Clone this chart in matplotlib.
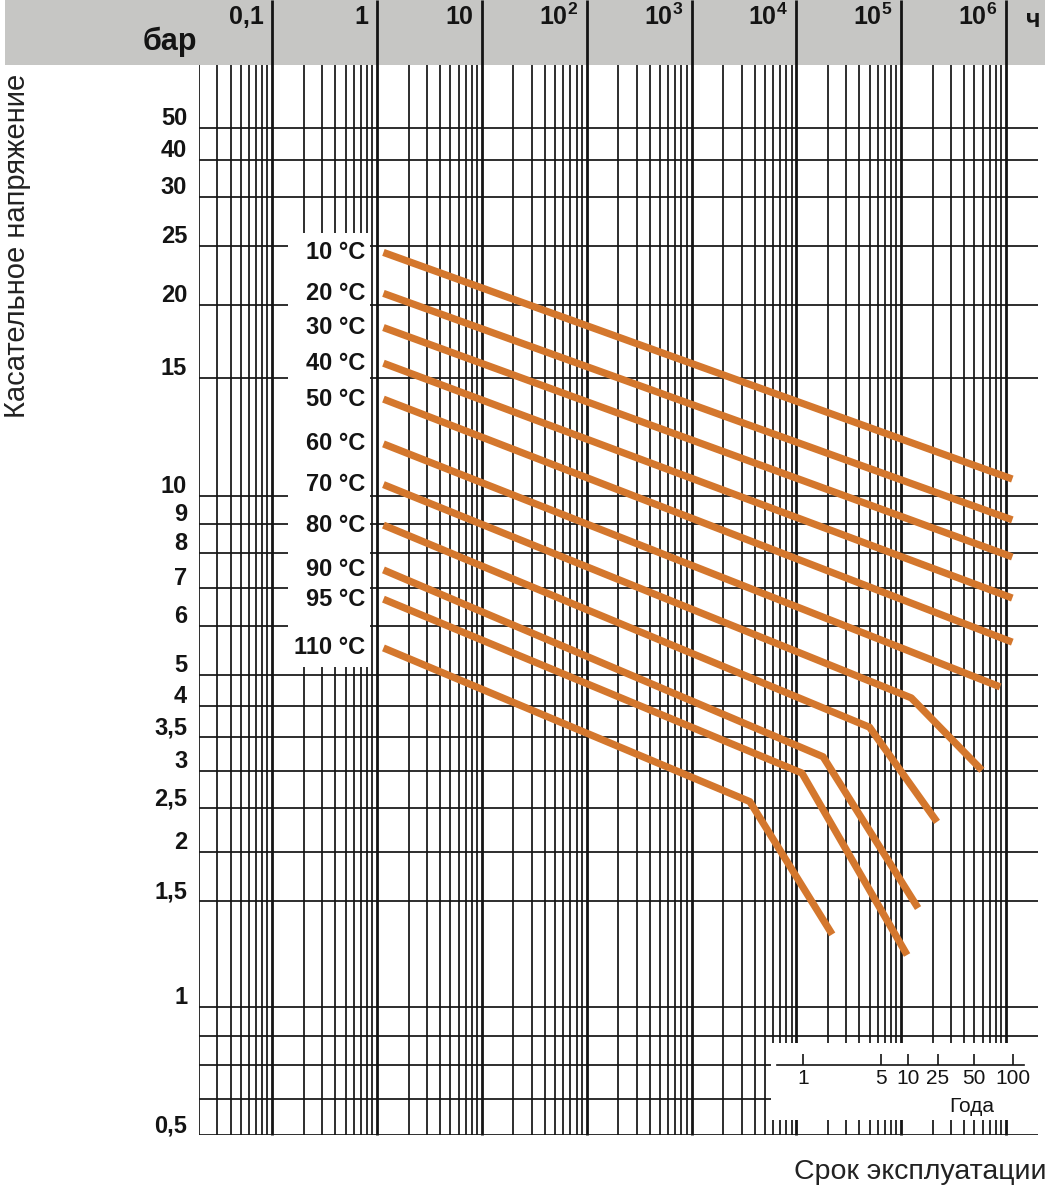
import numpy as np
import matplotlib
matplotlib.use("Agg")
import matplotlib.pyplot as plt
from matplotlib.patches import Rectangle

# ---- values ----
temp_labels = ["10 °C", "20 °C", "30 °C", "40 °C", "50 °C", "60 °C",
               "70 °C", "80 °C", "90 °C", "95 °C", "110 °C"]

# service time in hours / stress in bar (start, [knee], end)
hours_10 = [1.15, 1.15e6]
bar_10 = [24.4, 10.6]
hours_20 = [1.15, 1.15e6]
bar_20 = [20.9, 9.14]
hours_30 = [1.15, 1.15e6]
bar_30 = [18.3, 7.88]
hours_40 = [1.15, 1.15e6]
bar_40 = [15.9, 6.72]
hours_50 = [1.15, 1.15e6]
bar_50 = [13.95, 5.65]
hours_60 = [1.15, 8.8e5]
bar_60 = [11.96, 4.59]
hours_70 = [1.15, 1.25e5, 5.9e5]
bar_70 = [10.4, 4.24, 3.01]
hours_80 = [1.15, 5.0e4, 2.2e5]
bar_80 = [8.96, 3.65, 2.33]
hours_90 = [1.15, 1.8e4, 1.45e5]
bar_90 = [7.5, 3.2, 1.46]
hours_95 = [1.15, 1.13e4, 1.14e5]
bar_95 = [6.69, 2.97, 1.22]
hours_110 = [1.15, 3.6e3, 2.2e4]
bar_110 = [5.53, 2.58, 1.32]

series_hours = [hours_10, hours_20, hours_30, hours_40, hours_50, hours_60,
                hours_70, hours_80, hours_90, hours_95, hours_110]
series_bar = [bar_10, bar_20, bar_30, bar_40, bar_50, bar_60,
              bar_70, bar_80, bar_90, bar_95, bar_110]

y_tick_values = [50, 40, 30, 25, 20, 15, 10, 9, 8, 7, 6, 5, 4, 3.5, 3, 2.5, 2, 1.5, 1, 0.5]
y_tick_labels = ["50", "40", "30", "25", "20", "15", "10", "9", "8", "7", "6", "5",
                 "4", "3,5", "3", "2,5", "2", "1,5", "1", "0,5"]
y_extra_lines = [0.8, 0.7, 0.6]

x_decades = [0.1, 1, 10, 100, 1e3, 1e4, 1e5, 1e6]
x_decade_labels = ["0,1", "1", "10", "10$^2$", "10$^3$", "10$^4$", "10$^5$", "10$^6$"]

# years scale: where the chart puts each year tick, in hours
year_labels = ["1", "5", "10", "25", "50", "100"]
year_tick_hours = [1.16e4, 6.4e4, 1.16e5, 2.25e5, 4.95e5, 1.17e6]

# ---- the chart's (non-uniform) stress scale: value -> pixel row ----
SCALE_VALUES = np.array([0.5, 0.6, 0.7, 0.8, 1, 1.5, 2, 2.5, 3, 3.5, 4, 5, 6, 7, 8, 9,
                         10, 15, 20, 25, 30, 40, 50, 70])
SCALE_PX = np.array([1135, 1099, 1065, 1036, 1007, 901, 852, 808, 771, 737, 706, 675,
                     626, 588, 553, 524, 496, 378, 305, 246, 197, 160, 128, 65], float)
LOGV = np.log10(SCALE_VALUES)


def fwd(v):
    v = np.clip(np.asarray(v, float), 1e-9, None)
    return np.interp(np.log10(v), LOGV, -SCALE_PX)


def inv(u):
    return 10 ** np.interp(u, -SCALE_PX, LOGV)


def px_to_bar(p):
    return float(inv(-p))


plt.rcParams["mathtext.fontset"] = "custom"
plt.rcParams["mathtext.rm"] = "Liberation Sans:bold"
plt.rcParams["mathtext.bf"] = "Liberation Sans:bold"
plt.rcParams["mathtext.it"] = "Liberation Sans:bold"

W, H = 1051, 1200
fig = plt.figure(figsize=(W / 100, H / 100), dpi=100)
fig.patch.set_facecolor("white")

sans = ["Liberation Sans", "DejaVu Sans"]
ink = "#141414"

x_left, x_right = 199, 1037.5
ax = fig.add_axes([x_left / W, (H - 1135) / H, (x_right - x_left) / W, (1135 - 65) / H])
ax.set_xscale("log")
ax.set_yscale("function", functions=(fwd, inv))
xmin, xmax = 0.02, 2e6
ymin, ymax = 0.5, 70

for s in ax.spines.values():
    s.set_visible(False)
ax.set_xticks([])
ax.set_yticks([])
ax.minorticks_off()

# header band
band = Rectangle((5 / W, 1 - 65 / H), 1040 / W, 65 / H, transform=fig.transFigure,
                 facecolor="#c6c6c4", edgecolor="none", zorder=-1)
fig.add_artist(band)

# grid
minor = [m * 10.0 ** e for e in range(-2, 7) for m in range(2, 10)]
minor = [x for x in minor if xmin * 0.999 <= x <= 1e6]
ax.vlines(minor, ymin, ymax, colors=ink, lw=1.25, zorder=1)
ax.vlines(x_decades, 0, 1 + 65 / 1070, transform=ax.get_xaxis_transform(),
          colors=ink, lw=2.0, zorder=1, clip_on=False)
ax.hlines(y_tick_values + y_extra_lines, xmin, xmax, colors=ink, lw=1.25, zorder=1)

# white column behind temperature labels
ax.add_patch(Rectangle((0.142, px_to_bar(667)), 0.857 - 0.142,
                       px_to_bar(233) - px_to_bar(667),
                       facecolor="white", edgecolor="none", zorder=2))

# white box for the years scale
ax.add_patch(Rectangle((5.7e3, px_to_bar(1120)), xmax - 5.7e3,
                       px_to_bar(1043) - px_to_bar(1120),
                       facecolor="white", edgecolor="none", zorder=2, clip_on=False))

# curves
orange = "#d4772d"
for hrs, b, lab in zip(series_hours, series_bar, temp_labels):
    ax.plot(hrs, b, color=orange, lw=5.2, solid_joinstyle="round",
            solid_capstyle="butt", zorder=4)
    ax.annotate(lab, xy=(1, b[0]), xytext=(-8.5, 0), textcoords="offset points",
                ha="right", va="center", fontsize=17, fontweight="bold",
                family=sans, color=ink, zorder=5)

# stress tick labels
for v, lab in zip(y_tick_values, y_tick_labels):
    ax.annotate(lab, xy=(0, v), xycoords=("axes fraction", "data"),
                xytext=(-8.5, 6.5), textcoords="offset points",
                ha="right", va="center", fontsize=17, fontweight="bold",
                family=sans, color=ink, annotation_clip=False)

# hour decade labels in the header
for d, lab in zip(x_decades, x_decade_labels):
    ax.annotate(lab, xy=(d, 1), xycoords=("data", "axes fraction"),
                xytext=(-6, 34.5), textcoords="offset points",
                ha="right", va="center", fontsize=18, fontweight="bold",
                family=sans, color=ink, annotation_clip=False)

fig.text(197 / W, 1 - 42 / H, "бар", ha="right", va="center", fontsize=22,
         fontweight="bold", family=sans, color=ink)
fig.text(1033 / W, 1 - 20 / H, "ч", ha="center", va="center", fontsize=18,
         fontweight="bold", family=sans, color=ink)

# years scale
ax.plot([6.5e3, 1.5e6], [0.7, 0.7], color=ink, lw=1.2, zorder=3, clip_on=False)
ax.plot(year_tick_hours, [0.7] * len(year_tick_hours), ls="none", marker=2, ms=8,
        mew=1.2, color=ink, zorder=3)
for h, lab in zip(year_tick_hours, year_labels):
    ax.annotate(lab, xy=(h, 0.7), xytext=(0, -3), textcoords="offset points",
                ha="center", va="top", fontsize=15, family=sans, color=ink, zorder=5)
ax.annotate("Года", xy=(4.7e5, 0.7), xytext=(0, -30), textcoords="offset points",
            ha="center", va="center", fontsize=15, family=sans, color=ink, zorder=5)

ax.set_xlim(xmin, xmax)
ax.set_ylim(ymin, ymax)

fig.text(17 / W, 1 - 246 / H, "Касательное напряжение", rotation=90,
         ha="center", va="center", fontsize=21, family=sans, color="#222222")
fig.text(1046 / W, 1 - 1172 / H, "Срок эксплуатации", ha="right", va="center",
         fontsize=20.5, family=sans, color="#222222")

fig.savefig("out.png", dpi=100)
